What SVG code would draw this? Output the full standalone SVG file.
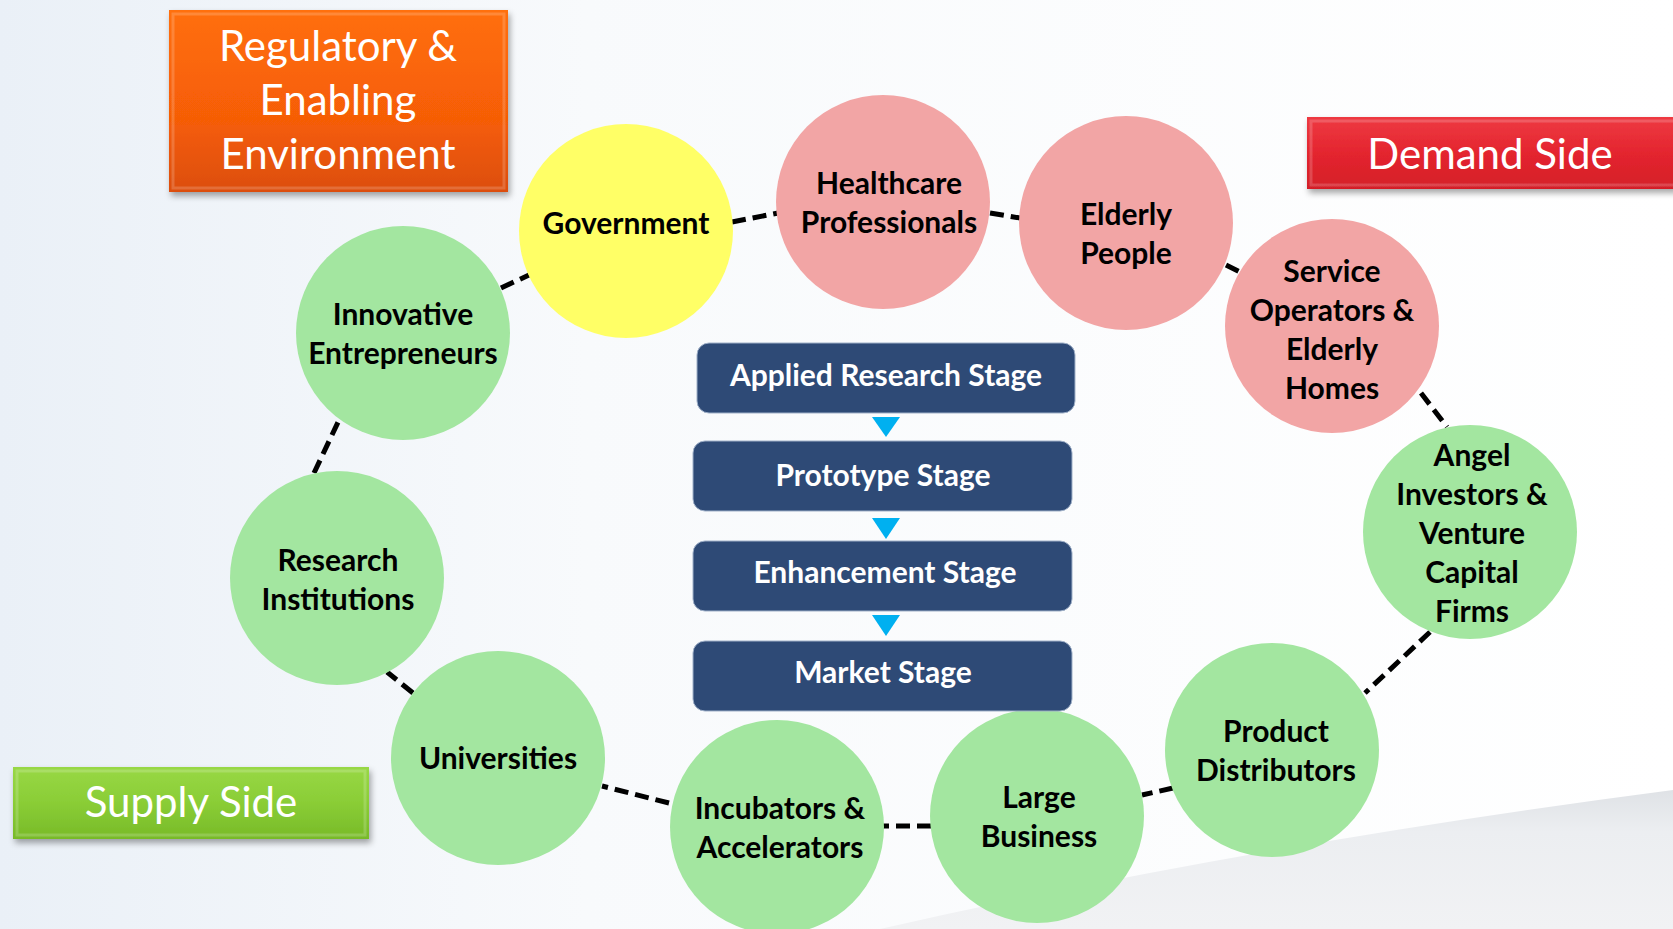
<svg xmlns="http://www.w3.org/2000/svg" width="1673" height="929" viewBox="0 0 1673 929">
<defs>
<linearGradient id="bg" x1="0" y1="0" x2="1" y2="0">
<stop offset="0" stop-color="#eaf0f7"/>
<stop offset="0.35" stop-color="#f8fafc"/>
<stop offset="1" stop-color="#ffffff"/>
</linearGradient>
<linearGradient id="swoosh" x1="0" y1="0" x2="0" y2="1">
<stop offset="0" stop-color="#dfe2e6"/>
<stop offset="0.3" stop-color="#eceef1"/>
<stop offset="1" stop-color="#f1f2f4"/>
</linearGradient>
<linearGradient id="orange" x1="0" y1="0" x2="0" y2="1">
<stop offset="0" stop-color="#ff6f0a"/>
<stop offset="0.6" stop-color="#f65d06"/>
<stop offset="1" stop-color="#dc4e10"/>
</linearGradient>
<linearGradient id="red" x1="0" y1="0" x2="0" y2="1">
<stop offset="0" stop-color="#ee3a42"/>
<stop offset="0.5" stop-color="#e4252f"/>
<stop offset="1" stop-color="#d41f28"/>
</linearGradient>
<linearGradient id="green" x1="0" y1="0" x2="0" y2="1">
<stop offset="0" stop-color="#98d845"/>
<stop offset="0.5" stop-color="#8acd36"/>
<stop offset="1" stop-color="#78ba28"/>
</linearGradient>
<filter id="sh" x="-10%" y="-10%" width="125%" height="130%">
<feDropShadow dx="2" dy="4" stdDeviation="3" flood-color="#000" flood-opacity="0.35"/>
</filter>
</defs>
<style>
.lbl{font-family:"Lato","Open Sans","Liberation Sans",sans-serif;font-size:42px;fill:#ffffff;text-anchor:middle}
.ct{font-family:"Lato","Open Sans","Liberation Sans",sans-serif;font-size:30px;font-weight:bold;fill:#000000;text-anchor:middle}
.st{font-family:"Lato","Open Sans","Liberation Sans",sans-serif;font-size:30px;font-weight:bold;fill:#ffffff;text-anchor:middle}
.g{fill:#a3e6a0}
.p{fill:#f2a5a5}
.y{fill:#ffff66}
.stage{fill:#2e4a76;stroke:#9fb0c8;stroke-width:1}
.tri{fill:#00b0f0}
.conn{stroke:#000;stroke-width:5;stroke-dasharray:14 7;fill:none}
.bevel{fill:none;stroke:#ffffff;stroke-opacity:0.18;stroke-width:3}
</style>
<rect width="1673" height="929" fill="url(#bg)"/>
<path d="M 880 929 Q 1250 845 1673 790 L 1673 929 Z" fill="url(#swoosh)"/>

<g id="connectors">
<line class="conn" x1="501" y1="288" x2="529" y2="275"/>
<line class="conn" x1="732" y1="222" x2="778" y2="213"/>
<line class="conn" x1="990" y1="213" x2="1020" y2="218"/>
<line class="conn" x1="1226" y1="265" x2="1240" y2="272"/>
<line class="conn" x1="1421" y1="393" x2="1447" y2="427"/>
<line class="conn" x1="1430" y1="632" x2="1365" y2="693"/>
<line class="conn" x1="1173" y1="788" x2="1142" y2="795"/>
<line class="conn" x1="931" y1="826" x2="883" y2="826"/>
<line class="conn" x1="669" y1="803" x2="602" y2="786"/>
<line class="conn" x1="413" y1="693" x2="387" y2="672"/>
<line class="conn" x1="314" y1="473" x2="340" y2="418"/>
</g>

<g id="regulatory">
<rect x="169" y="10" width="339" height="182" fill="url(#orange)" filter="url(#sh)"/>
<rect class="bevel" x="173" y="14" width="331" height="174"/>
<text class="lbl" x="338" y="61">Regulatory &amp;</text>
<text class="lbl" x="338" y="115">Enabling</text>
<text class="lbl" x="338" y="169">Environment</text>
</g>

<g id="demand">
<rect x="1307" y="117" width="370" height="72" fill="url(#red)" filter="url(#sh)"/>
<rect class="bevel" x="1311" y="121" width="370" height="64"/>
<text class="lbl" x="1490" y="169">Demand Side</text>
</g>

<g id="supply">
<rect x="13" y="767" width="356" height="72" fill="url(#green)" filter="url(#sh)"/>
<rect class="bevel" x="17" y="771" width="348" height="64"/>
<text class="lbl" x="191" y="817">Supply Side</text>
</g>

<g id="government">
<circle class="y" cx="626" cy="231" r="107"/>
<text class="ct" x="626" y="234">Government</text>
</g>
<g id="healthcare">
<circle class="p" cx="883" cy="202" r="107"/>
<text class="ct" x="889" y="194">Healthcare</text>
<text class="ct" x="889" y="233">Professionals</text>
</g>
<g id="elderly">
<circle class="p" cx="1126" cy="223" r="107"/>
<text class="ct" x="1126" y="225">Elderly</text>
<text class="ct" x="1126" y="264">People</text>
</g>
<g id="service">
<circle class="p" cx="1332" cy="326" r="107"/>
<text class="ct" x="1332" y="282">Service</text>
<text class="ct" x="1332" y="321">Operators &amp;</text>
<text class="ct" x="1332" y="360">Elderly</text>
<text class="ct" x="1332" y="399">Homes</text>
</g>
<g id="angel">
<circle class="g" cx="1470" cy="532" r="107"/>
<text class="ct" x="1472" y="466">Angel</text>
<text class="ct" x="1472" y="505">Investors &amp;</text>
<text class="ct" x="1472" y="544">Venture</text>
<text class="ct" x="1472" y="583">Capital</text>
<text class="ct" x="1472" y="622">Firms</text>
</g>
<g id="product">
<circle class="g" cx="1272" cy="750" r="107"/>
<text class="ct" x="1276" y="742">Product</text>
<text class="ct" x="1276" y="781">Distributors</text>
</g>
<g id="large">
<circle class="g" cx="1037" cy="816" r="107"/>
<text class="ct" x="1039" y="808">Large</text>
<text class="ct" x="1039" y="847">Business</text>
</g>
<g id="incubators">
<circle class="g" cx="777" cy="827" r="107"/>
<text class="ct" x="780" y="819">Incubators &amp;</text>
<text class="ct" x="780" y="858">Accelerators</text>
</g>
<g id="universities">
<circle class="g" cx="498" cy="758" r="107"/>
<text class="ct" x="498" y="769">Universities</text>
</g>
<g id="research">
<circle class="g" cx="337" cy="578" r="107"/>
<text class="ct" x="338" y="571">Research</text>
<text class="ct" x="338" y="610">Institutions</text>
</g>
<g id="innovative">
<circle class="g" cx="403" cy="333" r="107"/>
<text class="ct" x="403" y="325">Innovative</text>
<text class="ct" x="403" y="364">Entrepreneurs</text>
</g>

<g id="stage-applied">
<rect class="stage" x="697" y="343" width="378" height="70" rx="12"/>
<text class="st" x="886" y="386">Applied Research Stage</text>
</g>
<polygon class="tri" points="872,417 900,417 886,437"/>
<g id="stage-prototype">
<rect class="stage" x="693" y="441" width="379" height="70" rx="12"/>
<text class="st" x="883" y="486">Prototype Stage</text>
</g>
<polygon class="tri" points="872,518 900,518 886,539"/>
<g id="stage-enhancement">
<rect class="stage" x="693" y="541" width="379" height="70" rx="12"/>
<text class="st" x="885" y="583">Enhancement  Stage</text>
</g>
<polygon class="tri" points="872,615 900,615 886,636"/>
<g id="stage-market">
<rect class="stage" x="693" y="641" width="379" height="70" rx="12"/>
<text class="st" x="883" y="683">Market Stage</text>
</g>
</svg>
